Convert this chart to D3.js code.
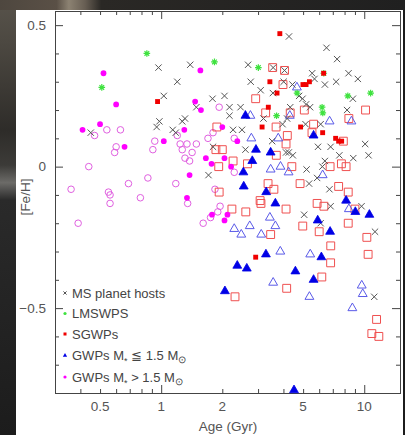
<!DOCTYPE html>
<html>
<head>
<meta charset="utf-8">
<script src="https://cdn.jsdelivr.net/npm/d3@7"></script>
<style>
  body { margin: 0; background: #1c1c1c; }
  svg { display: block; }
</style>
</head>
<body>
<div class="container"></div>
<script>
const width = 405;
const height = 435;
const frame = { left: 55, right: 400, top: 11, bottom: 393 };

// dados: [idade (Gyr), [Fe/H]]
const msHosts = [
  [4.26,0.46],[6.52,0.42],[7.35,0.38],[0.97,0.35],[1.39,0.36],[2.68,0.36],[1.20,0.30],[3.56,0.35],
  [4.05,0.34],[2.76,0.30],[4.01,0.30],[4.43,0.29],[5.54,0.33],[5.69,0.31],[6.40,0.29],[7.27,0.30],
  [8.37,0.33],[9.30,0.31],[3.09,0.27],[1.03,0.25],[1.79,0.24],[2.05,0.25],[2.17,0.21],[2.46,0.21],
  [1.49,0.21],[2.17,0.18],[0.98,0.16],[0.95,0.14],[1.27,0.16],[1.31,0.17],[1.14,0.13],[1.18,0.12],
  [0.45,0.12],[2.26,0.13],[2.50,0.13],[1.80,0.07],[2.60,0.06],[1.71,-0.03],[3.19,0.17],[3.55,0.26],
  [4.78,0.25],[4.97,0.24],[5.17,0.22],[5.41,0.21],[4.32,0.21],[4.17,0.17],[3.96,0.15],[8.23,0.20],
  [8.79,0.24],[6.10,0.15],[5.14,0.15],[5.92,0.07],[6.83,0.07],[10.1,0.08],[3.52,0.09],[4.12,0.05],
  [4.25,0.05],[4.45,0.04],[10.5,0.04],[7.54,0.04],[8.83,0.03],[6.40,0.02],[6.22,0.00],[5.20,-0.01],
  [5.86,-0.04],[5.35,-0.06],[6.74,-0.08],[6.83,-0.14],[5.06,-0.17],[6.10,-0.20],[9.70,-0.14],
  [11.3,-0.23],[11.2,-0.46]
];
const lmswps = [
  [0.85,0.40],[0.51,0.28],[1.83,0.37],[3.01,0.35],[4.67,0.26],[3.70,0.18],[6.20,0.21],[6.25,0.19],
  [8.30,0.25],[10.75,0.26],[6.32,0.33]
];
const sgwpsFilled = [
  [3.84,0.47],[3.43,0.30],[3.72,0.26],[6.31,0.33],[4.99,0.29],[5.17,0.29],[5.37,0.30],[0.96,0.23],
  [3.37,0.21],[3.14,0.14],[4.86,0.14],[6.24,0.12],[7.23,0.10],[7.48,0.09],[7.74,0.09],[2.92,-0.32]
];
const sgwpsOpen = [
  [3.54,0.35],[4.05,0.34],[3.98,0.29],[2.92,0.24],[3.27,0.19],[5.07,0.20],[10.15,0.20],[8.40,0.17],
  [4.32,0.19],[1.88,0.14],[3.68,0.14],[5.63,0.15],[5.53,0.12],[4.18,0.11],[4.12,0.08],[7.89,0.09],
  [1.86,0.06],[2.00,0.06],[1.92,0.00],[2.26,0.02],[2.66,0.01],[3.69,0.04],[4.40,0.00],[4.83,-0.06],
  [6.79,0.00],[7.72,0.01],[8.14,0.00],[7.48,-0.07],[8.34,-0.09],[3.36,-0.06],[3.59,-0.08],[3.07,-0.12],
  [3.10,-0.13],[4.12,-0.15],[2.23,-0.15],[2.61,-0.16],[5.86,-0.13],[6.33,-0.14],[9.00,-0.15],[4.98,-0.21],
  [6.00,-0.23],[8.34,-0.20],[3.46,-0.24],[10.3,-0.25],[6.84,-0.28],[10.45,-0.31],[6.83,-0.34],[6.18,-0.39],
  [4.15,-0.43],[2.31,-0.46],[11.5,-0.54],[10.9,-0.59],[11.8,-0.60],[1.93,-0.09]
];
const gwpsLowFilled = [
  [2.60,0.18],[5.63,0.11],[2.93,0.06],[3.46,0.05],[2.81,0.02],[2.54,-0.02],[2.55,-0.07],[3.29,-0.09],
  [3.65,-0.13],[8.14,-0.12],[9.04,-0.16],[10.6,-0.17],[5.90,-0.19],[6.79,-0.23],[3.28,-0.31],[2.37,-0.35],
  [2.64,-0.36],[4.58,-0.37],[6.15,-0.32],[5.63,-0.40],[2.06,-0.44],[4.51,-0.79]
];
const gwpsLowOpen = [
  [2.75,0.18],[2.78,0.10],[4.66,0.28],[4.30,0.18],[3.77,0.10],[6.75,0.16],[8.65,0.16],[3.46,-0.01],
  [3.87,0.00],[4.24,-0.02],[6.24,-0.03],[3.43,-0.18],[3.65,-0.21],[2.73,-0.21],[2.29,-0.22],[2.48,-0.24],
  [3.11,-0.24],[3.86,-0.30],[5.42,-0.31],[8.40,-0.15],[3.56,-0.41],[5.37,-0.46],[9.72,-0.42],[9.83,-0.45],
  [8.74,-0.50]
];
const gwpsHighFilled = [
  [0.52,0.33],[0.60,0.22],[1.56,0.34],[1.47,0.23],[1.57,0.20],[0.41,0.13],[0.50,0.15],[1.30,0.13],
  [0.66,0.07],[1.03,0.09],[2.00,0.14],[2.37,0.09],[1.66,0.03],[1.77,0.01],[2.05,0.03],[2.21,0.00],
  [1.38,-0.03],[1.34,-0.11],[1.78,-0.17],[2.12,-0.17],[2.05,-0.19]
];
const gwpsHighOpen = [
  [0.47,0.11],[0.54,0.13],[0.63,0.13],[0.60,0.07],[0.59,0.05],[0.93,0.09],[0.91,0.06],[0.44,0.00],
  [0.36,-0.08],[0.55,-0.09],[0.56,-0.10],[0.56,-0.13],[0.69,-0.06],[0.86,-0.04],[0.79,-0.11],[0.39,-0.20],
  [1.18,-0.06],[1.35,-0.13],[1.27,0.06],[1.42,0.05],[1.31,0.03],[1.38,0.02],[1.93,0.21],[1.20,0.11],
  [1.70,0.10],[1.80,0.12],[2.29,0.10],[1.24,0.08],[1.34,0.08],[1.49,0.08],[1.84,-0.08],[1.95,-0.14],
  [1.90,-0.16],[1.75,-0.18],[1.61,-0.20],[2.29,-0.02]
];

// eixos
const xDomain = [0.3, 15];
const yDomain = [-0.8, 0.55];
const xMinor = [0.4, 0.5, 0.6, 0.7, 0.8, 0.9, 2, 3, 4, 5, 6, 7, 8, 9];
const xMajor = [1, 10];
const xLabels = [0.5, 1, 2, 5, 10];
const yMinor = [-0.7, -0.6, -0.4, -0.3, -0.2, -0.1, 0.1, 0.2, 0.3, 0.4];
const yMajor = [-0.5, 0, 0.5];
const yLabels = [-0.5, 0, 0.5];
const legendLabels = ['MS planet hosts', 'LMSWPS', 'SGWPs'];

const x = d3.scaleLog().domain(xDomain).range([frame.left, frame.right]);
const y = d3.scaleLinear().domain(yDomain).range([frame.bottom, frame.top]);

const svg = d3.select('.container')
  .append('svg')
  .attr('width', width)
  .attr('height', height);

// fundo escuro (foto do slide)
svg.append('rect').attr('width', width).attr('height', height).attr('fill', '#1c1c1c');
const defs = svg.append('defs');
const gEsq = defs.append('linearGradient').attr('id', 'esq')
  .attr('x1', 0).attr('y1', 0).attr('x2', 0).attr('y2', 1);
[[0, '#58534b'], [0.1, '#4c4841'], [0.3, '#2e2c29'], [0.38, '#3c3b38'], [0.42, '#6c6b68'],
 [0.46, '#2a2a2a'], [1, '#1c1c1c']].forEach(s => gEsq.append('stop').attr('offset', s[0]).attr('stop-color', s[1]));
const gTopo = defs.append('linearGradient').attr('id', 'topo');
[[0, '#4e473f'], [0.14, '#5a5046'], [0.17, '#8c8272'], [0.21, '#675e53'], [0.25, '#2a2825'],
 [1, '#202020']].forEach(s => gTopo.append('stop').attr('offset', s[0]).attr('stop-color', s[1]));
svg.append('rect').attr('x', 0).attr('y', 0).attr('width', 16).attr('height', height).attr('fill', 'url(#esq)');
svg.append('rect').attr('x', 0).attr('y', 0).attr('width', width).attr('height', 10).attr('fill', 'url(#topo)');

// painel branco
svg.append('rect')
  .attr('x', 16).attr('y', 10)
  .attr('width', 387).attr('height', height - 10)
  .attr('fill', '#fff');

// ticks para dentro
function ticks(gen, tx, ty, vals, size) {
  svg.append('g')
    .attr('transform', `translate(${tx},${ty})`)
    .call(gen.tickValues(vals).tickSize(size).tickFormat(''))
    .call(g => g.select('.domain').remove())
    .selectAll('line').attr('stroke', '#444');
}
ticks(d3.axisBottom(x), 0, frame.bottom, xMinor, -4);
ticks(d3.axisBottom(x), 0, frame.bottom, xMajor, -8);
ticks(d3.axisTop(x), 0, frame.top, xMinor, -4);
ticks(d3.axisTop(x), 0, frame.top, xMajor, -8);
ticks(d3.axisLeft(y), frame.left, 0, yMinor, -4);
ticks(d3.axisLeft(y), frame.left, 0, yMajor, -8);
ticks(d3.axisRight(y), frame.right, 0, yMinor, -4);
ticks(d3.axisRight(y), frame.right, 0, yMajor, -8);

// moldura
svg.append('rect')
  .attr('x', frame.left + 0.5).attr('y', frame.top + 0.5)
  .attr('width', frame.right - frame.left).attr('height', frame.bottom - frame.top)
  .attr('fill', 'none').attr('stroke', '#444').attr('stroke-width', 1);

const fonte = '"Liberation Sans", Arial, sans-serif';

// rótulos
svg.append('g').selectAll('text').data(xLabels).join('text')
  .attr('x', d => x(d)).attr('y', 411)
  .attr('text-anchor', 'middle')
  .attr('font-family', fonte).attr('font-size', 13.5).attr('fill', '#555')
  .text(d => String(d));
svg.append('g').selectAll('text').data(yLabels).join('text')
  .attr('x', 46).attr('y', d => y(d) + 4.8)
  .attr('text-anchor', 'end')
  .attr('font-family', fonte).attr('font-size', 13.5).attr('fill', '#555')
  .text(d => d === 0 ? '0' : d3.format('.1f')(d));

svg.append('text')
  .attr('x', 228).attr('y', 431)
  .attr('text-anchor', 'middle')
  .attr('font-family', fonte).attr('font-size', 13.5).attr('fill', '#555')
  .text('Age (Gyr)');
svg.append('text')
  .attr('transform', 'translate(30,197) rotate(-90)')
  .attr('text-anchor', 'middle')
  .attr('font-family', fonte).attr('font-size', 13.5).attr('fill', '#555')
  .text('[Fe/H]');

// símbolos
const cruz = { draw(ctx, size) {
  const r = Math.sqrt(size) / 2;
  ctx.moveTo(-r, -r); ctx.lineTo(r, r);
  ctx.moveTo(-r, r); ctx.lineTo(r, -r);
} };
const asterisco = { draw(ctx, size) {
  const r = Math.sqrt(size) / 2;
  for (let k = 0; k < 4; k++) {
    const a = k * Math.PI / 4;
    ctx.moveTo(-r * Math.cos(a), -r * Math.sin(a));
    ctx.lineTo(r * Math.cos(a), r * Math.sin(a));
  }
} };

const camada = svg.append('g').attr('class', 'pontos');
function pontos(dados, tipo, tamanho, fill, stroke, sw) {
  camada.append('g').selectAll('path').data(dados).join('path')
    .attr('transform', d => `translate(${x(d[0])},${y(d[1])})`)
    .attr('d', d3.symbol(tipo, tamanho))
    .attr('fill', fill)
    .attr('stroke', stroke)
    .attr('stroke-width', sw);
}

pontos(gwpsHighOpen, d3.symbolCircle, 34, 'none', '#e060e0', 1);
pontos(sgwpsOpen, d3.symbolSquare, 62, 'none', '#ef5050', 1);
pontos(gwpsLowOpen, d3.symbolTriangle, 34, 'none', '#5a5ae8', 1);
pontos(msHosts, cruz, 40, 'none', '#555', 1);
pontos(lmswps, asterisco, 44, 'none', '#3fe23f', 1.2);
pontos(sgwpsFilled, d3.symbolSquare, 24, '#f00000', 'none', 0);
pontos(gwpsLowFilled, d3.symbolTriangle, 34, '#0000e6', '#0000e6', 0.8);
pontos(gwpsHighFilled, d3.symbolCircle, 26, '#ff00ff', 'none', 0);

// legenda
const legY = [293, 313.5, 334, 355.5, 377];
const leg = svg.append('g').attr('class', 'legenda')
  .attr('font-family', fonte).attr('font-size', 13).attr('fill', '#444');

leg.append('path').attr('transform', `translate(65,${legY[0]})`)
  .attr('d', d3.symbol(cruz, 10)).attr('stroke', '#555').attr('fill', 'none');
leg.append('circle').attr('cx', 65).attr('cy', legY[1]).attr('r', 1.6).attr('fill', '#3fe23f');
leg.append('rect').attr('x', 63.5).attr('y', legY[2] - 1.5).attr('width', 3).attr('height', 3).attr('fill', '#f00000');
leg.append('path').attr('transform', `translate(65,${legY[3]})`)
  .attr('d', d3.symbol(d3.symbolTriangle, 8)).attr('fill', '#0000e6');
leg.append('circle').attr('cx', 65).attr('cy', legY[4]).attr('r', 1.6).attr('fill', '#ff00ff');

legendLabels.forEach((t, i) => {
  leg.append('text').attr('x', 72).attr('y', legY[i] + 4.6).text(t);
});

function rotuloMassa(i, comparador) {
  const t = leg.append('text').attr('x', 72).attr('y', legY[i] + 4.6);
  t.append('tspan').text('GWPs M');
  t.append('tspan').attr('dy', 4).attr('font-size', 9).text('*');
  t.append('tspan').attr('dy', -4).text(` ${comparador} 1.5 M`);
  t.append('tspan').attr('dy', 3).attr('font-size', 10).text('\u2299');
}
rotuloMassa(3, '\u2266');
rotuloMassa(4, '>');
</script>
</body>
</html>
